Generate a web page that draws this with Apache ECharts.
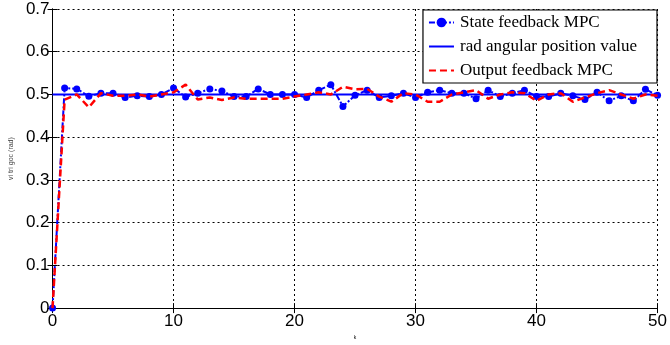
<!DOCTYPE html>
<html><head><meta charset="utf-8">
<script src="https://cdn.jsdelivr.net/npm/echarts@6/dist/echarts.min.js"></script>
<style>html,body{margin:0;padding:0;background:#fff}#c{width:670px;height:345px}</style>
</head><body><div id="c"></div>
<script>
const kValues = [0,1,2,3,4,5,6,7,8,9,10,11,12,13,14,15,16,17,18,19,20,21,22,23,24,25,26,27,28,29,30,31,32,33,34,35,36,37,38,39,40,41,42,43,44,45,46,47,48,49,50];
const stateFeedback = [0,0.515,0.513,0.496,0.503,0.503,0.493,0.497,0.495,0.500,0.515,0.494,0.503,0.513,0.508,0.495,0.495,0.513,0.500,0.500,0.500,0.493,0.510,0.523,0.472,0.498,0.510,0.493,0.497,0.503,0.493,0.505,0.510,0.503,0.503,0.490,0.510,0.495,0.503,0.510,0.495,0.495,0.503,0.497,0.488,0.505,0.485,0.497,0.485,0.512,0.498];
const outputFeedback = [0,0.488,0.500,0.470,0.503,0.497,0.497,0.500,0.495,0.500,0.505,0.523,0.488,0.493,0.487,0.493,0.490,0.490,0.490,0.490,0.495,0.500,0.505,0.500,0.518,0.512,0.513,0.495,0.483,0.503,0.500,0.483,0.483,0.500,0.505,0.510,0.490,0.500,0.505,0.503,0.485,0.500,0.503,0.483,0.493,0.503,0.510,0.500,0.490,0.500,0.497];
const referenceValue = 0.5;
const xTicks = {min:0,max:50,interval:10};
const yTicks = {min:0,max:0.7,interval:0.1};
const yAxisName = 'vi tri goc (rad)';
const xAxisName = 'k';
const names = ['State feedback MPC','rad angular position value','Output feedback MPC'];

const chart = echarts.init(document.getElementById('c'));
const lbl = {color:'#000',fontFamily:'"Liberation Sans", Arial, sans-serif',fontSize:17};
const gridLine = {show:true,lineStyle:{color:'#000',type:[2,3],width:1}};
chart.setOption({
  animation:false,
  backgroundColor:'#fff',
  grid:{left:48,right:10,top:9,bottom:27},
  legend:{
    data:[{name:names[0]},{name:names[1],itemStyle:{opacity:0}},{name:names[2],itemStyle:{opacity:0}}],
    orient:'vertical',right:13,top:10,
    backgroundColor:'#fff',borderColor:'#000',borderWidth:1.2,borderRadius:0,
    padding:[4,20,4,5],itemGap:7,itemWidth:25,itemHeight:12,
    textStyle:{fontFamily:'"Liberation Serif", "Times New Roman", serif',fontSize:17,color:'#000',padding:[0,0,0,1]}
  },
  xAxis:[{type:'value',min:xTicks.min,max:xTicks.max,interval:xTicks.interval,
    name:xAxisName,nameLocation:'middle',nameGap:24,nameTextStyle:{fontSize:5,color:'#000'},
    axisLine:{lineStyle:{color:'#000',width:1}},axisTick:{inside:true,length:5,lineStyle:{color:'#000'}},
    axisLabel:Object.assign({margin:5},lbl),splitLine:gridLine},
    {type:'value',position:'top',min:xTicks.min,max:xTicks.max,interval:xTicks.interval,
    axisLine:{lineStyle:{color:'#000'}},axisTick:{inside:true,length:5,lineStyle:{color:'#000'}},axisLabel:{show:false},splitLine:{show:false}}],
  yAxis:[{type:'value',min:yTicks.min,max:yTicks.max,interval:yTicks.interval,
    name:yAxisName,nameLocation:'middle',nameGap:13,nameRotate:90,nameTextStyle:{fontSize:7,color:'#444'},
    axisLine:{lineStyle:{color:'#000',width:1}},axisTick:{inside:true,length:5,lineStyle:{color:'#000'}},
    axisLabel:Object.assign({margin:3,formatter:v=>v===0?'0':v.toFixed(1)},lbl),splitLine:gridLine},
    {type:'value',position:'right',min:yTicks.min,max:yTicks.max,interval:yTicks.interval,
    axisLine:{lineStyle:{color:'#000'}},axisTick:{inside:true,length:5,lineStyle:{color:'#000'}},axisLabel:{show:false},splitLine:{show:false}}],
  series:[
    {name:names[0],type:'line',data:kValues.map((k,i)=>[k,stateFeedback[i]]),
      symbol:'circle',symbolSize:7,showSymbol:true,
      itemStyle:{color:'#0000ff'},lineStyle:{color:'#0000ff',width:2,type:[6,2,2,2]},z:3},
    {name:names[1],type:'line',data:kValues.map(k=>[k,referenceValue]),
      symbol:'none',itemStyle:{color:'#0000ff'},lineStyle:{color:'#0000ff',width:2},z:2},
    {name:names[2],type:'line',data:kValues.map((k,i)=>[k,outputFeedback[i]]),
      symbol:'none',itemStyle:{color:'#ff0000'},lineStyle:{color:'#ff0000',width:2.5,type:[7,4]},z:4}
  ],
  graphic:[{type:'text',left:650,top:19,style:{text:'i',fontSize:17,fontFamily:'"Liberation Serif", serif',fill:'#000'}}]
});
</script></body></html>
